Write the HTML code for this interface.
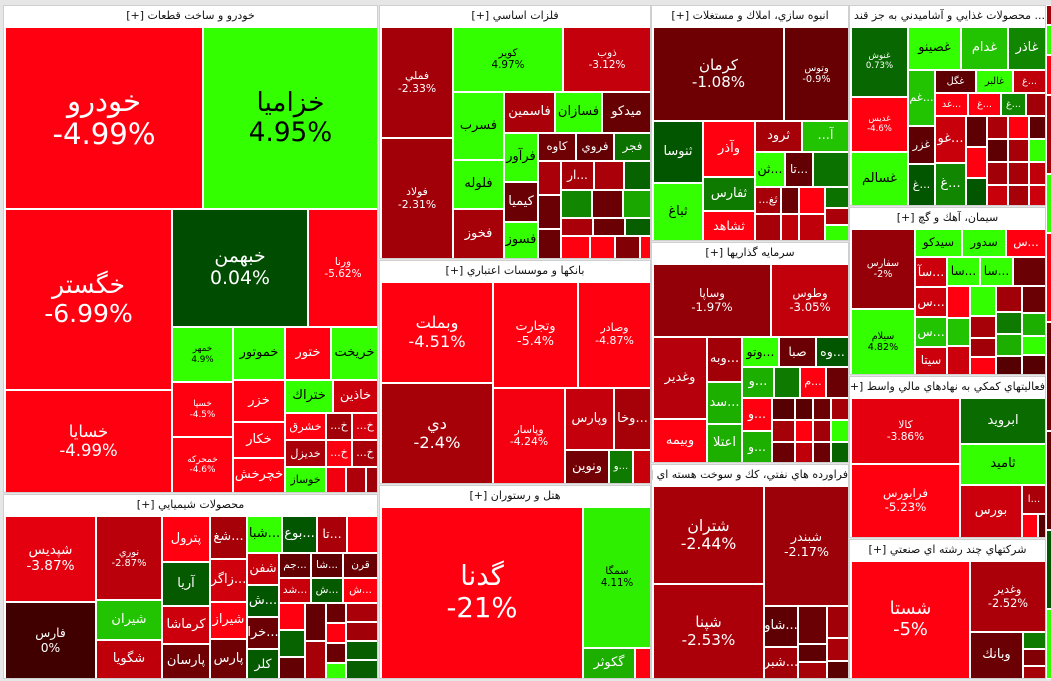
<!DOCTYPE html>
<html><head><meta charset="utf-8">
<style>
html,body{margin:0;padding:0;background:#e6e6e6;width:1051px;height:681px;overflow:hidden;font-family:"DejaVu Sans","Noto Sans CJK SC",sans-serif;}
#map{position:absolute;left:0;top:0;width:1051px;height:681px;background:#e6e6e6;}
.sec{position:absolute;background:#fff;border:1px solid #cfcfcf;box-sizing:border-box;}
.ttl{position:absolute;left:0;right:0;top:0;height:20px;line-height:20px;text-align:center;font-size:11px;color:#111;direction:rtl;white-space:nowrap;overflow:hidden;}
.tile{position:absolute;box-sizing:border-box;overflow:hidden;display:flex;flex-direction:column;align-items:center;justify-content:center;text-align:center;white-space:nowrap;line-height:1.15;}
</style></head><body>
<div id="map"></div>
<script>
// ---- data: sectors (title, bounds) and tile trees [name, pct change, market weight] ----
const sectorTitles = ["خودرو و ساخت قطعات [+]","فلزات اساسي [+]","انبوه سازي، املاك و مستغلات [+]","سرمايه گذاريها [+]","فراورده هاي نفتي، كك و سوخت هسته اي [+]","بانكها و موسسات اعتباري [+]","هتل و رستوران [+]","محصولات شيميايي [+]","... محصولات غذايي و آشاميدني به جز قند و [+]","سيمان، آهك و گچ [+]","فعاليتهاي كمكي به نهادهاي مالي واسط [+]","شركتهاي چند رشته اي صنعتي [+]"];
const sectorBoxes = [[3,5,375,488],[379,5,272,254],[651,5,198,236],[651,242,198,221],[651,464,198,215],[379,260,272,224],[379,485,272,194],[3,494,375,185],[849,5,197,201],[849,207,197,168],[849,376,197,162],[849,539,197,140]];
const autoTree = {d:'v',c:[
 {d:'h',c:[["خودرو",-4.99,362],["خزاميا",4.95,319]]},
 {d:'h',c:[
  {d:'v',c:[["خگستر",-6.99,301],["خسايا",-4.99,172]]},
  {d:'v',c:[
   {d:'h',c:[["خبهمن",0.04,160],["ورنا",-5.62,83]]},
   {d:'h',c:[
    {d:'v',c:[["خمهر",4.9,34],["خسپا",-4.5,34],["خمحركه",-4.6,34]]},
    {d:'v',c:[
     {d:'h',c:[["خموتور",4.7,27],["ختور",-4.6,24],["خريخت",4.8,25]]},
     {d:'h',c:[
      {d:'v',c:[["خزر",-4.6,22],["خكار",-4.6,19],["خچرخش",-4.6,18]]},
      {d:'v',c:[
       {d:'h',c:[["ختراك",4.8,16],["خاذين",-3.3,15]]},
       {d:'h',c:[
        {d:'v',c:[["خشرق",-4.6,11],["خديزل",-2.5,11],["خوساز",4.8,11]]},
        {d:'v',c:[{d:'h',c:[["خ...",-2.3,7],["خ...",-3.5,7]]},{d:'h',c:[["خ...",-4.4,7],["خ...",-2.5,7]]},{d:'h',c:[["",-4.2,5],["",-2.6,5],["",-2.2,3]]}]}
       ]}
      ]}
     ]}
    ]}
   ]}
  ]}
 ]}
]};
const metalTree = {d:'h',c:[
 {d:'v',c:[["فملي",-2.33,83],["فولاد",-2.31,91]]},
 {d:'v',c:[
  {d:'h',c:[["كوير",4.97,74],["ذوب",-3.12,59]]},
  {d:'h',c:[
   {d:'v',c:[["فسرب",4.9,36],["فلوله",4.8,26],["فخوز",-2.4,26]]},
   {d:'v',c:[
    {d:'h',c:[["فاسمين",-2.5,22],["فسازان",4.8,20],["ميدكو",-0.9,21]]},
    {d:'h',c:[
     {d:'v',c:[["فرآور",4.8,17],["كيميا",-1.0,14],["فسوز",4.8,13]]},
     {d:'v',c:[
      {d:'h',c:[["كاوه",-1.1,11],["فروي",-0.8,11],["فجر",1.0,11]]},
      {d:'h',c:[
       {d:'v',c:[["",-2.5,8],["",-1.0,8],["",-1.0,7]]},
       {d:'v',c:[{d:'h',c:[["...ار",-2.4,10],["",-2.5,9],["",0.6,8]]},{d:'h',c:[["",1.5,9],["",-1.0,9],["",2.3,8]]},{d:'h',c:[["",-2.5,6],["",-1.0,6],["",0.5,5]]},{d:'h',c:[["",-4.5,7],["",-4.5,6],["",-1.5,6],["",-4.6,3]]}]}
      ]}
     ]}
    ]}
   ]}
  ]}
 ]}
]};
const buildTree = {d:'v',c:[
 {d:'h',c:[["كرمان",-1.08,126],["وتوس",-0.9,63]]},
 {d:'h',c:[
  {d:'v',c:[["ثنوسا",0.3,32],["ثباغ",4.7,30]]},
  {d:'v',c:[["وآذر",-4.6,30],["ثفارس",1.2,18],["ثشاهد",-4.6,16]]},
  {d:'v',c:[
   {d:'h',c:[["ثرود",-2.4,15],["آ...",3.0,15]]},
   {d:'h',c:[["...ثن",4.7,11],["...تا",-0.8,10],["",1.0,13]]},
   {d:'h',c:[{d:'v',c:[["ثغ...",-2.4,7],["",-2.4,7]]},{d:'v',c:[["",-1.0,5],["",-3.0,5]]},{d:'v',c:[["",-4.5,7],["",-3.0,7]]},{d:'v',c:[["",1.0,5],["",-2.5,4],["",4.8,4]]}]}
  ]}
 ]}
]};
const investTree = {d:'v',c:[
 {d:'h',c:[["وساپا",-1.97,87],["وطوس",-3.05,57]]},
 {d:'h',c:[
  {d:'v',c:[["وغدير",-2.79,44],["وبيمه",-4.6,24]]},
  {d:'v',c:[["...وبه",-2.3,16],["...سد",2.5,15],["اعتلا",2.5,14]]},
  {d:'v',c:[
   {d:'h',c:[["...وتو",4.8,11],["صبا",-1.0,11],["...وه",0.3,10]]},
   {d:'h',c:[["...و",2.5,10],["",1.2,8],["...م",-4.6,8],["...و",-1.0,7]]},
   {d:'h',c:[{d:'v',c:[["...و",-4.6,10],["...و",2.5,10]]},{d:'v',c:[{d:'h',c:[["...و",-0.5,5],["",-0.6,4],["",-1.0,4],["",-2.4,4]]},{d:'h',c:[["",-2.4,5],["",-4.6,4],["",-2.3,4],["",4.8,4]]},{d:'h',c:[["",-1.0,5],["",-3.0,4],["",-1.0,4],["",0.6,4]]}]}]}
  ]}
 ]}
]};
const refineTree = {d:'h',c:[
 {d:'v',c:[["شتران",-2.44,110],["شپنا",-2.53,106]]},
 {d:'v',c:[["شبندر",-2.17,103],{d:'h',c:[{d:'v',c:[["...شاو",-0.7,14],["...شبر",-2.3,11]]},{d:'v',c:[["",-1.0,11],{d:'v',c:[["",-0.7,5],["",-2.4,5]]}]},{d:'v',c:[["",-2.3,7],["",-2.5,5],["",-0.6,4]]}]}]}
]};
const bankTree = {d:'h',c:[
 {d:'v',c:[["وبملت",-4.51,113],["دي",-2.4,113]]},
 {d:'v',c:[
  {d:'h',c:[["وتجارت",-5.4,90],["وصادر",-4.87,78]]},
  {d:'h',c:[["وپاسار",-4.24,69],{d:'v',c:[{d:'h',c:[["وپارس",-3.1,31],["...وخا",-2.4,23]]},{d:'h',c:[["ونوين",-1.2,15],["...و",1.2,8],["",-3.2,6]]}]}]}
 ]}
]};
const hotelTree = {d:'h',c:[["گدنا",-21,349],{d:'v',c:[["سمگا",4.11,96],{d:'h',c:[["گكوثر",2.5,16],["",-4.6,5]]}]}]};
const chemTree = {d:'h',c:[
 {d:'v',c:[["شپديس",-3.87,78],["فارس",0,70]]},
 {d:'v',c:[["نوري",-2.87,55],["شيران",3.0,26],["شگويا",-3.0,26]]},
 {d:'v',c:[["پترول",-4.6,22],["آريا",0.4,21],["كرماشا",-3.3,18],["پارسان",-1.1,17]]},
 {d:'v',c:[["...شغ",-2.4,16],["...زاگر",-3.4,16],["شيراز",-4.5,14],["پارس",-1.1,15]]},
 {d:'v',c:[
  {d:'h',c:[["...شبا",4.8,13],["...بوع",0.3,13],["...تا",-2.5,11],["",-4.6,11]]},
  {d:'h',c:[
   {d:'v',c:[["شفن",-3.2,10],["...ش",0.3,10],["...خرا",-1.0,10],["كلر",0.4,10]]},
   {d:'v',c:[
    {d:'h',c:[{d:'v',c:[["...جم",-0.8,8],["...شد",-3.2,8]]},{d:'v',c:[["...شا",-0.7,8],["...ش",0.4,8]]},{d:'v',c:[["قرن",-1.0,9],["...ش",-4.5,9]]}]},
    {d:'h',c:[{d:'v',c:[["",-4.5,7],["",0.6,7],["",-0.8,6]]},{d:'v',c:[["...و",-0.8,8],["",-2.4,8]]},{d:'v',c:[["",-1.0,4],["",-4.6,4],["",-1.0,4],["",4.8,3]]},{d:'v',c:[["",-2.5,6],["",-2.3,6],["",0.5,6],["",0.5,6]]}]}
   ]}
  ]}
 ]}
]};
const foodTree = {d:'h',c:[
 {d:'v',c:[["غنوش",0.73,42],["غديس",-4.6,33],["غسالم",4.8,32]]},
 {d:'v',c:[
  {d:'h',c:[["غصينو",4.8,24],["غدام",3.0,21],["غاذر",1.5,17]]},
  {d:'h',c:[
   {d:'v',c:[["...غم",3.0,16],["غزر",-0.7,11],["...غ",0.3,12]]},
   {d:'v',c:[
    {d:'h',c:[["غگل",-0.7,10],["غالبر",4.8,9],["...غ",-3.0,8]]},
    {d:'h',c:[["...غد",-4.5,8],["...غ",-4.6,8],["...غ",1.5,6],["",-2.3,5]]},
    {d:'h',c:[{d:'v',c:[["...غو",-3.2,15],["...غ",1.5,14]]},{d:'v',c:[["...غ",-0.7,7],["...غ",-4.6,7],["",0.3,6]]},{d:'v',c:[{d:'h',c:[["",-2.5,5],["",-4.6,5],["",-0.7,4]]},{d:'h',c:[["",-0.7,5],["",-2.4,5],["",4.8,4]]},{d:'h',c:[["",-2.3,5],["",-2.4,5],["",-3.0,4]]},{d:'h',c:[["",-3.2,5],["",-2.4,5],["",-3.3,4]]}]}]}
   ]}
  ]}
 ]}
]};
const cementTree = {d:'h',c:[
 {d:'v',c:[["سفارس",-2.0,54],["سيلام",4.82,45]]},
 {d:'v',c:[
  {d:'h',c:[["سيدكو",4.8,14],["سدور",4.8,13],["...س",-4.6,12]]},
  {d:'h',c:[
   {d:'v',c:[["...سآ",-3.3,10],["...س",-3.3,10],["...س",3.0,10],["سيتا",-3.3,9]]},
   {d:'v',c:[
    {d:'h',c:[["...سا",4.8,10],["...سا",4.8,10],["",-1.0,10]]},
    {d:'h',c:[{d:'v',c:[["",-4.6,8],["",3.0,7],["",-3.3,7]]},{d:'v',c:[["",4.8,8],["",-2.4,6],["",-2.3,5],["",-4.6,5]]},{d:'v',c:[["",-2.3,7],["",1.2,6],["",2.5,6],["",-0.5,5]]},{d:'v',c:[["",-1.0,7],["",2.5,6],["",4.8,5],["",-0.5,5]]}]}
   ]}
  ]}
 ]}
]};
const finTree = {d:'h',c:[
 {d:'v',c:[["كالا",-3.86,72],["فرابورس",-5.23,81]]},
 {d:'v',c:[["ابرويد",0.81,39],["ثاميد",4.8,35],{d:'h',c:[["بورس",-3.3,33],{d:'v',c:[["...ا",-2.5,7],{d:'h',c:[["",-4.6,4],["",-0.6,2]]}]}]}]}
]};
const multiTree = {d:'h',c:[["شستا",-5,142],{d:'v',c:[["وغدير",-2.52,55],{d:'h',c:[["وبانك",-1.0,25],{d:'v',c:[["",1.2,4],["",-1.5,4],["",-2.4,3]]}]}]}]};
const sectorTrees = [autoTree,metalTree,buildTree,investTree,refineTree,bankTree,hotelTree,chemTree,foodTree,cementTree,finTree,multiTree];

// ---- rendering ----
function weight(n){ return Array.isArray(n) ? n[2] : n.c.reduce((s,k)=>s+weight(k),0); }
function mix(a,b,t){ return a.map((v,i)=>Math.round(v+(b[i]-v)*t)); }
function color(p){
  if(p>0){ const t=Math.min(p/4.5,1); const c=mix([0,74,0],[51,255,0],t); return 'rgb('+c.join(',')+')'; }
  const t=Math.min(-p/4.5,1); const c=mix([64,0,0],[255,0,17],t); return 'rgb('+c.join(',')+')';
}
function fmt(p){ return (Math.round(p*100)/100)+'%'; }
const map=document.getElementById('map');
function leaf(n,x,y,w,h,host){
  const d=document.createElement('div');
  d.className='tile';
  
  
  d.style.left=(x+1)+'px'; d.style.top=(y+1)+'px';
  d.style.width=Math.max(w-2,0)+'px'; d.style.height=Math.max(h-2,0)+'px';
  d.style.background=color(n[1]);
  d.style.color = n[1]>3.5 ? '#000' : '#fff';
  const md=Math.min(w,h);
  if(n[0] && md>=55 && w>=50){
    const fs=Math.max(8,Math.min(md*0.16,w*0.15,32));
    d.style.fontSize=fs+'px';
    const a=document.createElement('div'); a.textContent=n[0]; a.style.direction='rtl';
    const b=document.createElement('div'); b.textContent=fmt(n[1]);
    d.appendChild(a); d.appendChild(b);
  } else if(n[0] && md>=20 && w>=24){
    d.style.fontSize=Math.min(13,md*0.42)+'px';
    d.style.direction='rtl';
    d.textContent=n[0];
  }
  host.appendChild(d);
}
function layout(n,x,y,w,h,host){
  if(Array.isArray(n)){ leaf(n,x,y,w,h,host); return; }
  const tot=weight(n); let off=0;
  n.c.forEach((k,i)=>{
    const f=weight(k)/tot;
    if(n.d==='h'){ const cw=(i===n.c.length-1)? w-off : Math.round(w*f); layout(k,x+off,y,cw,h,host); off+=cw; }
    else { const ch=(i===n.c.length-1)? h-off : Math.round(h*f); layout(k,x,y+off,w,ch,host); off+=ch; }
  });
}
sectorBoxes.forEach((b,i)=>{
  const s=document.createElement('div');
  s.className='sec';
  
  
  s.style.left=b[0]+'px'; s.style.top=b[1]+'px'; s.style.width=b[2]+'px'; s.style.height=b[3]+'px';
  const t=document.createElement('div');
  t.className='ttl'; t.textContent=sectorTitles[i];
  
  
  s.appendChild(t);
  map.appendChild(s);
  layout(sectorTrees[i],1,21,b[2]-2,b[3]-22,s);
});
// right edge sliver of clipped sectors
const sliverPct=[-2.4,4.8,-4.6,-2.5,4.8,-4.6,-1.0,-0.8,0.3,4.8];
const sliverW=[20,30,40,80,60,90,110,100,80,70];
const sl=document.createElement('div');


sl.style.cssText='position:absolute;left:1046px;top:5px;width:5px;height:674px;background:#fff;';
map.appendChild(sl);
layout({d:'v',c:sliverPct.map((p,i)=>["",p,sliverW[i]])},0,0,7,674,sl);
</script>
</body></html>
